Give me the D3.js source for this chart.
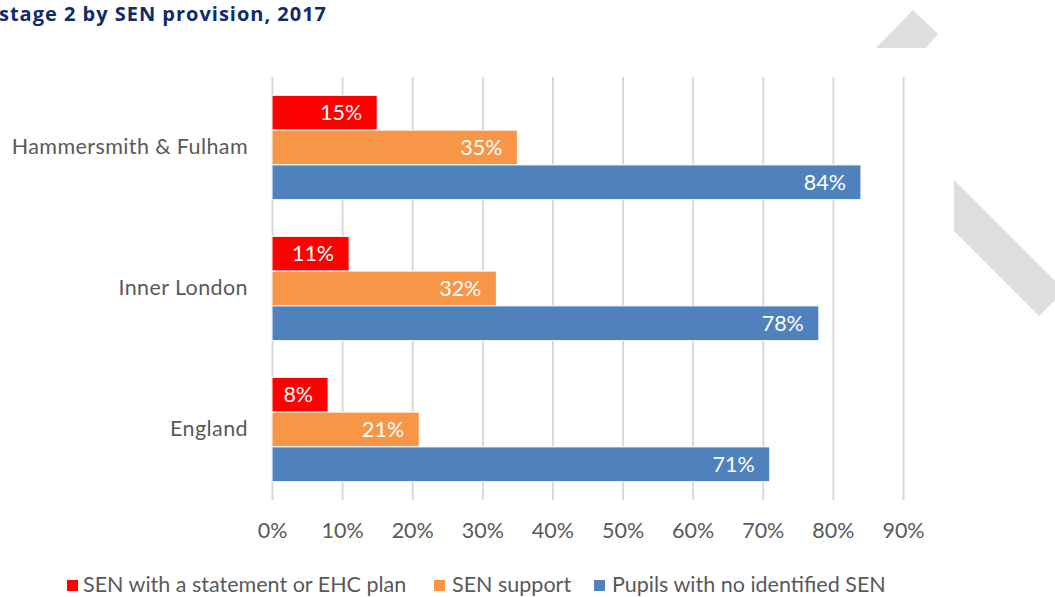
<!DOCTYPE html>
<html>
<head>
<meta charset="utf-8">
<script src="https://cdn.jsdelivr.net/npm/d3@7"></script>
<style>
  html, body { margin: 0; padding: 0; background: #fff; }
  svg { display: block; }
</style>
</head>
<body>
<svg id="chart" width="1055" height="597"></svg>
<script>
// Key stage 2 attainment by SEN provision
const categories = ["Hammersmith & Fulham", "Inner London", "England"];
const seriesNames = ["SEN with a statement or EHC plan", "SEN support", "Pupils with no identified SEN"];
const statementValues = [15, 11, 8];
const supportValues = [35, 32, 21];
const noSenValues = [84, 78, 71];
const tickValues = [0, 10, 20, 30, 40, 50, 60, 70, 80, 90];
const seriesColors = ["#ff0000", "#f79646", "#4f81bd"];

const seriesValues = [statementValues, supportValues, noSenValues];
const rows = categories.map((c, i) => ({
  category: c,
  values: seriesNames.map((s, j) => ({ series: s, value: seriesValues[j][i], color: seriesColors[j] }))
}));

const svg = d3.select("#chart");
const font = "Lato, 'Noto Sans', sans-serif";
const fontSize = 21.5;

// decorative grey ribbon shapes in the corner
const ribbons = [
  [[876, 48], [913, 10], [938, 34], [926, 48]],
  [[954, 180], [1055, 281], [1055, 300], [1039, 316], [954, 231]]
];
svg.selectAll("polygon.ribbon").data(ribbons).join("polygon")
  .attr("class", "ribbon")
  .attr("points", d => d.map(p => p.join(",")).join(" "))
  .attr("fill", "#dedede");

// title
svg.append("text")
  .attr("x", -1).attr("y", 21)
  .attr("font-family", "'Open Sans', sans-serif")
  .attr("font-weight", "bold")
  .attr("font-size", 20)
  .attr("fill", "#112b68")
  .attr("textLength", 327)
  .attr("lengthAdjust", "spacing")
  .text("stage 2 by SEN provision, 2017");

const x = d3.scaleLinear().domain([0, 90]).range([272, 903]);
const y0 = d3.scaleBand().domain(categories).range([77, 500]).paddingInner(0.26).paddingOuter(0.13);
const y1 = d3.scaleBand().domain(seriesNames).range([0, y0.bandwidth()]);

// vertical gridlines
const grid = svg.append("g").attr("transform", "translate(0,500)")
  .call(d3.axisBottom(x).tickValues(tickValues).tickSize(-423).tickFormat(""));
grid.select(".domain").remove();
grid.selectAll("line").attr("stroke", "#d9d9d9").attr("stroke-width", 2);

// tick labels
const axis = svg.append("g").attr("transform", "translate(0,500)")
  .call(d3.axisBottom(x).tickValues(tickValues).tickSize(0).tickPadding(23).tickFormat(d => d + "%"));
axis.select(".domain").remove();
axis.selectAll("text")
  .attr("font-family", font).attr("font-size", fontSize).attr("fill", "#595959");

// category labels
const yAxis = svg.append("g").attr("transform", "translate(272,0)")
  .call(d3.axisLeft(y0).tickSize(0).tickPadding(24));
yAxis.select(".domain").remove();
yAxis.selectAll("text")
  .attr("font-family", font).attr("font-size", fontSize).attr("fill", "#595959")
  .attr("letter-spacing", 0.4);

// bars
const groups = svg.selectAll("g.grp").data(rows).join("g")
  .attr("class", "grp")
  .attr("transform", d => `translate(0,${y0(d.category)})`);

groups.selectAll("rect").data(d => d.values).join("rect")
  .attr("x", x(0))
  .attr("y", d => y1(d.series))
  .attr("width", d => x(d.value) - x(0))
  .attr("height", y1.bandwidth())
  .attr("fill", d => d.color)
  .attr("stroke", "#fff").attr("stroke-width", 1);

groups.selectAll("text.val").data(d => d.values).join("text")
  .attr("class", "val")
  .attr("x", d => x(d.value) - 15)
  .attr("y", d => y1(d.series) + y1.bandwidth() / 2)
  .attr("dy", "0.35em")
  .attr("text-anchor", "end")
  .attr("font-family", font).attr("font-size", fontSize)
  .attr("fill", "#fff")
  .text(d => d.value + "%");

// legend
const legendX = [67, 434, 594];
const legend = svg.selectAll("g.leg").data(seriesNames).join("g")
  .attr("class", "leg")
  .attr("transform", (d, i) => `translate(${legendX[i]},584)`);
legend.append("rect")
  .attr("x", 0).attr("y", -4).attr("width", 11).attr("height", 11)
  .attr("fill", (d, i) => seriesColors[i]);
legend.append("text")
  .attr("x", (d, i) => i === 0 ? 16 : 18).attr("y", 0).attr("dy", "0.35em")
  .attr("font-family", font).attr("font-size", fontSize).attr("fill", "#595959")
  .text(d => d);
</script>
</body>
</html>
